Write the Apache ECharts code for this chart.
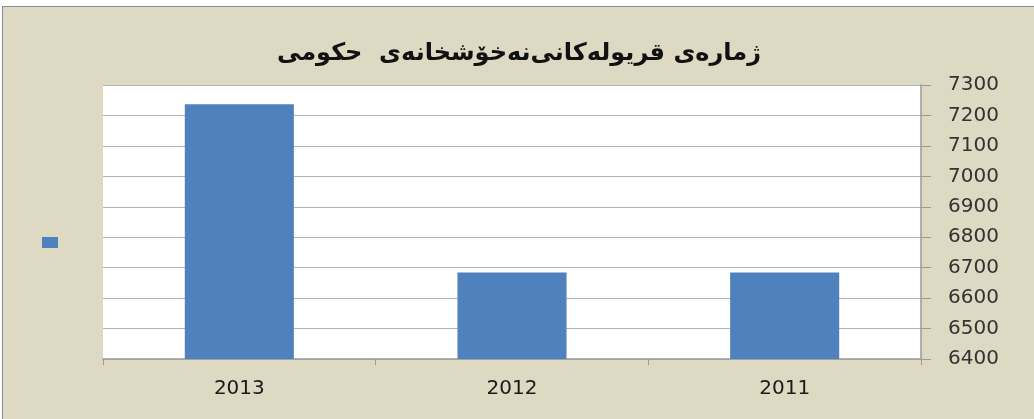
<!DOCTYPE html>
<html>
<head>
<meta charset="utf-8">
<script src="https://cdn.jsdelivr.net/npm/echarts@6/dist/echarts.min.js"></script>
<style>
  html, body { margin: 0; padding: 0; background: #fff; width: 1034px; height: 419px; overflow: hidden; }
  #frame { position: absolute; left: 2px; top: 6px; width: 1100px; height: 480px; background: #ddd9c3; border-left: 1px solid #8a8a8a; border-top: 1px solid #8a8a8a; }
  #chart { position: absolute; left: 0; top: 0; width: 1100px; height: 419px; }
</style>
</head>
<body>
<div id="frame"></div>
<div id="chart"></div>
<script>
const titleText = 'ژمارەی قریولەکانی‌نەخۆشخانەی  حکومی';
const categories = ['2013', '2012', '2011'];
const bedCounts = [7237, 6684, 6684];
const yTicks = { min: 6400, max: 7300, step: 100 };

const chart = echarts.init(document.getElementById('chart'));
chart.setOption({
  backgroundColor: 'transparent',
  animation: false,
  title: {
    text: titleText,
    left: 514,
    textAlign: 'center',
    top: 37,
    textStyle: { fontFamily: 'DejaVu Sans', fontWeight: 'bold', fontSize: 24, color: '#111' }
  },
  legend: {
    data: [' '],
    left: 37,
    top: 232,
    itemWidth: 16,
    itemHeight: 11,
    icon: 'rect',
    textStyle: { fontSize: 1 }
  },
  grid: {
    left: 103, right: 179, top: 85, bottom: 60,
    show: true, backgroundColor: '#ffffff', borderWidth: 0,
    outerBoundsMode: 'none'
  },
  xAxis: {
    type: 'category',
    data: categories,
    boundaryGap: true,
    axisLine: { show: true, lineStyle: { color: '#9a9a9a', width: 1.5 } },
    axisTick: { show: true, length: 6, alignWithLabel: false, lineStyle: { color: '#9a9a9a' } },
    axisLabel: { margin: 20, fontFamily: 'DejaVu Sans', fontSize: 20, color: '#1a1a1a' },
    splitLine: { show: false }
  },
  yAxis: {
    type: 'value',
    position: 'right',
    min: yTicks.min,
    max: yTicks.max,
    interval: yTicks.step,
    axisLine: { show: true, lineStyle: { color: '#9a9a9a', width: 1.5 } },
    axisTick: { show: true, length: 10, lineStyle: { color: '#9a9a9a' } },
    axisLabel: { margin: 27, fontFamily: 'DejaVu Sans', fontSize: 20, color: '#333', formatter: v => String(v) },
    splitLine: { show: true, lineStyle: { color: '#b4b4b4', width: 1 } }
  },
  series: [{
    name: ' ',
    type: 'bar',
    data: bedCounts,
    barWidth: '40%',
    itemStyle: { color: '#4f81bd' }
  }]
});
</script>
</body>
</html>
